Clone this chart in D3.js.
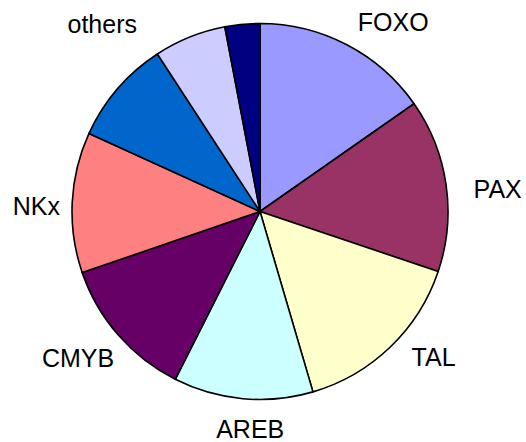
<!DOCTYPE html>
<html>
<head>
<meta charset="utf-8">
<script src="https://cdn.jsdelivr.net/npm/d3@7"></script>
<style>
  body { margin: 0; background: #fff; }
  text { font-family: "Liberation Sans", Arial, sans-serif; font-size: 25px; fill: #000; }
</style>
</head>
<body>
<div id="visual"></div>
<script>
var w = 526, h = 442;

// slice labels, clockwise from 12 o'clock (two small slices carry no label)
var names  = ["FOXO", "PAX", "TAL", "AREB", "CMYB", "NKx", "", "others", ""];
var values = [15.3, 14.9, 15.3, 12.0, 12.3, 12.1, 9.0, 6.2, 3.0];
var colors = ["#9999FF", "#993366", "#FFFFCC", "#CCFFFF", "#660066",
              "#FF8080", "#0066CC", "#CCCCFF", "#000080"];

var cx = 260, cy = 211.5, radius = 188;
var gap = 18;
// hand placement nudges for the labels, like the original chart
var nudge = {
  FOXO: [27, 15], PAX: [9, 11], TAL: [16, -18], AREB: [10, 1.5],
  CMYB: [-2, -10], NKx: [6, 6], others: [-73, 23]
};

var data = names.map(function(n, i){ return {name: n, value: values[i], color: colors[i]}; });

var svg = d3.select("#visual").append("svg")
  .attr("width", w)
  .attr("height", h);

var pie = d3.pie()
  .sort(null)
  .value(function(d){ return d.value; });

var arc = d3.arc()
  .innerRadius(0)
  .outerRadius(radius);

var arcs = pie(data);

var g = svg.append("g")
  .attr("transform", "translate(" + cx + "," + cy + ")");

g.selectAll("path")
  .data(arcs)
  .enter().append("path")
    .attr("d", arc)
    .style("fill", function(d){ return d.data.color; })
    .style("stroke", "#000")
    .style("stroke-width", 1.6)
    .style("stroke-linejoin", "round");

var labels = g.selectAll("text")
  .data(arcs.filter(function(d){ return d.data.name; }))
  .enter().append("text")
    .attr("text-anchor", "middle")
    .text(function(d){ return d.data.name; });

labels.each(function(d){
  var t = d3.select(this);
  var bw = this.getComputedTextLength() / 2, bh = 8.5;
  var a = (d.startAngle + d.endAngle) / 2;
  var s = Math.sin(a), c = Math.cos(a);
  var r = radius + gap + bw * Math.abs(s) + bh * Math.abs(c);
  var x = r * s, y = -r * c;
  var n = nudge[d.data.name];
  if (n) { x += n[0]; y += n[1]; }
  t.attr("x", x).attr("y", y + bh);
});
</script>
</body>
</html>
